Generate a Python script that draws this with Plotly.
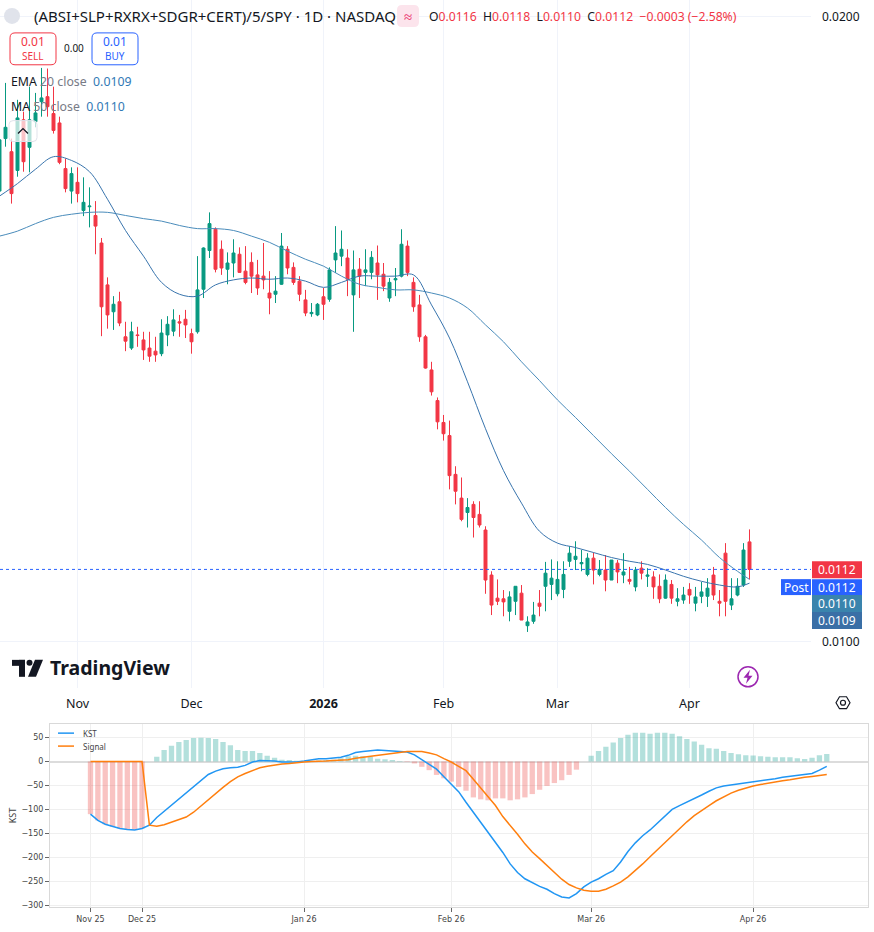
import plotly.graph_objects as go

W, H = 874, 932

# daily bars, one per trading day (Oct 15 2025 -> Apr 16 2026)
bar_open = [
    0.01721, 0.01805, 0.01784, 0.01754, 0.01835, 0.01791, 0.01832, 0.01864, 0.01872, 0.01845,
    0.01830, 0.01757, 0.01721, 0.01735, 0.01690, 0.01696, 0.01682, 0.01638, 0.01571, 0.01528,
    0.01544, 0.01488, 0.01470, 0.01491, 0.01483, 0.01470, 0.01465, 0.01461, 0.01491, 0.01497,
    0.01512, 0.01516, 0.01493, 0.01496, 0.01564, 0.01626, 0.01660, 0.01628, 0.01596, 0.01606,
    0.01620, 0.01593, 0.01607, 0.01587, 0.01585, 0.01558, 0.01556, 0.01572, 0.01628, 0.01599,
    0.01577, 0.01547, 0.01525, 0.01523, 0.01552, 0.01548, 0.01611, 0.01617, 0.01614, 0.01555,
    0.01596, 0.01591, 0.01591, 0.01606, 0.01588, 0.01550, 0.01579, 0.01585, 0.01633, 0.01575,
    0.01539, 0.01488, 0.01435, 0.01386, 0.01351, 0.01330, 0.01268, 0.01230, 0.01207, 0.01220,
    0.01204, 0.01179, 0.01107, 0.01070, 0.01069, 0.01049, 0.01065, 0.01078, 0.01026, 0.01033,
    0.01062, 0.01089, 0.01092, 0.01077, 0.01084, 0.01129, 0.01132, 0.01125, 0.01108, 0.01134,
    0.01108, 0.01115, 0.01099, 0.01126, 0.01107, 0.01100, 0.01088, 0.01118, 0.01105, 0.01104,
    0.01089, 0.01070, 0.01092, 0.01065, 0.01067, 0.01084, 0.01062, 0.01073, 0.01073, 0.01107,
    0.01065, 0.01142, 0.01059, 0.01075, 0.01091, 0.01160,
]
bar_high = [
    0.01811, 0.01894, 0.01805, 0.01867, 0.01848, 0.01888, 0.01878, 0.01918, 0.01917, 0.01888,
    0.01840, 0.01773, 0.01759, 0.01759, 0.01743, 0.01727, 0.01705, 0.01646, 0.01583, 0.01553,
    0.01560, 0.01512, 0.01512, 0.01504, 0.01496, 0.01496, 0.01488, 0.01516, 0.01521, 0.01532,
    0.01523, 0.01531, 0.01501, 0.01617, 0.01631, 0.01687, 0.01663, 0.01642, 0.01623, 0.01644,
    0.01631, 0.01633, 0.01623, 0.01611, 0.01638, 0.01593, 0.01585, 0.01654, 0.01633, 0.01607,
    0.01585, 0.01563, 0.01542, 0.01542, 0.01566, 0.01599, 0.01665, 0.01658, 0.01628, 0.01626,
    0.01614, 0.01628, 0.01625, 0.01634, 0.01606, 0.01582, 0.01598, 0.01660, 0.01642, 0.01583,
    0.01555, 0.01491, 0.01448, 0.01391, 0.01363, 0.01354, 0.01281, 0.01263, 0.01230, 0.01225,
    0.01225, 0.01185, 0.01113, 0.01100, 0.01083, 0.01081, 0.01089, 0.01091, 0.01041, 0.01064,
    0.01083, 0.01128, 0.01132, 0.01129, 0.01129, 0.01153, 0.01161, 0.01147, 0.01142, 0.01143,
    0.01131, 0.01139, 0.01131, 0.01131, 0.01142, 0.01120, 0.01120, 0.01129, 0.01118, 0.01113,
    0.01108, 0.01108, 0.01099, 0.01086, 0.01088, 0.01094, 0.01088, 0.01096, 0.01102, 0.01120,
    0.01083, 0.01158, 0.01102, 0.01102, 0.01158, 0.01180,
]
bar_low = [
    0.01716, 0.01792, 0.01701, 0.01744, 0.01752, 0.01751, 0.01823, 0.01840, 0.01840, 0.01813,
    0.01764, 0.01719, 0.01701, 0.01703, 0.01681, 0.01663, 0.01620, 0.01489, 0.01501, 0.01499,
    0.01505, 0.01465, 0.01467, 0.01472, 0.01451, 0.01448, 0.01448, 0.01457, 0.01473, 0.01489,
    0.01488, 0.01486, 0.01461, 0.01493, 0.01550, 0.01614, 0.01591, 0.01587, 0.01572, 0.01583,
    0.01590, 0.01572, 0.01558, 0.01555, 0.01564, 0.01524, 0.01542, 0.01571, 0.01588, 0.01571,
    0.01545, 0.01521, 0.01520, 0.01521, 0.01515, 0.01544, 0.01590, 0.01601, 0.01553, 0.01496,
    0.01550, 0.01569, 0.01580, 0.01547, 0.01561, 0.01544, 0.01553, 0.01583, 0.01585, 0.01528,
    0.01480, 0.01437, 0.01394, 0.01340, 0.01322, 0.01244, 0.01220, 0.01193, 0.01183, 0.01167,
    0.01183, 0.01077, 0.01043, 0.01059, 0.01041, 0.01033, 0.01043, 0.01035, 0.01016, 0.01029,
    0.01041, 0.01049, 0.01067, 0.01073, 0.01070, 0.01120, 0.01115, 0.01113, 0.01105, 0.01092,
    0.01105, 0.01081, 0.01099, 0.01094, 0.01094, 0.01092, 0.01081, 0.01100, 0.01088, 0.01069,
    0.01062, 0.01069, 0.01061, 0.01057, 0.01061, 0.01061, 0.01049, 0.01062, 0.01056, 0.01067,
    0.01041, 0.01041, 0.01051, 0.01073, 0.01088, 0.01100,
]
bar_close = [
    0.01803, 0.01823, 0.01717, 0.01838, 0.01768, 0.01835, 0.01846, 0.01870, 0.01856, 0.01818,
    0.01767, 0.01725, 0.01749, 0.01717, 0.01703, 0.01697, 0.01665, 0.01536, 0.01523, 0.01540,
    0.01510, 0.01481, 0.01496, 0.01490, 0.01467, 0.01457, 0.01459, 0.01494, 0.01508, 0.01515,
    0.01510, 0.01507, 0.01480, 0.01563, 0.01630, 0.01669, 0.01596, 0.01598, 0.01606, 0.01622,
    0.01591, 0.01575, 0.01585, 0.01566, 0.01579, 0.01550, 0.01561, 0.01633, 0.01598, 0.01575,
    0.01556, 0.01526, 0.01527, 0.01540, 0.01540, 0.01595, 0.01622, 0.01628, 0.01580, 0.01595,
    0.01585, 0.01595, 0.01615, 0.01587, 0.01569, 0.01575, 0.01581, 0.01636, 0.01591, 0.01536,
    0.01488, 0.01438, 0.01400, 0.01352, 0.01333, 0.01266, 0.01241, 0.01196, 0.01215, 0.01199,
    0.01187, 0.01099, 0.01059, 0.01065, 0.01064, 0.01072, 0.01089, 0.01035, 0.01032, 0.01043,
    0.01057, 0.01110, 0.01102, 0.01100, 0.01108, 0.01142, 0.01137, 0.01127, 0.01134, 0.01115,
    0.01116, 0.01099, 0.01131, 0.01112, 0.01112, 0.01097, 0.01115, 0.01110, 0.01107, 0.01088,
    0.01069, 0.01099, 0.01070, 0.01069, 0.01075, 0.01075, 0.01072, 0.01080, 0.01086, 0.01075,
    0.01062, 0.01065, 0.01069, 0.01089, 0.01147, 0.01116,
]

ma_bar = list(range(0, 126, 3)) + [125]
ema20 = [
    0.01713, 0.01733, 0.01756, 0.01776, 0.01770, 0.01752, 0.01708, 0.01658, 0.01617, 0.01575,
    0.01556, 0.01553, 0.01571, 0.01579, 0.01582, 0.01580, 0.01582, 0.01577, 0.01567, 0.01575,
    0.01585, 0.01585, 0.01585, 0.01587, 0.01539, 0.01486, 0.01416, 0.01341, 0.01274, 0.01222,
    0.01177, 0.01158, 0.01151, 0.01143, 0.01135, 0.01129, 0.01124, 0.01115, 0.01105, 0.01097,
    0.01091, 0.01088, 0.01094,
]
ma50 = [
    0.01649, 0.01657, 0.01669, 0.01679, 0.01684, 0.01687, 0.01687, 0.01682, 0.01677, 0.01673,
    0.01666, 0.01661, 0.01661, 0.01658, 0.01649, 0.01639, 0.01625, 0.01612, 0.01601, 0.01585,
    0.01572, 0.01567, 0.01563, 0.01563, 0.01558, 0.01550, 0.01534, 0.01507, 0.01480, 0.01448,
    0.01418, 0.01387, 0.01359, 0.01330, 0.01301, 0.01273, 0.01244, 0.01215, 0.01188, 0.01163,
    0.01135, 0.01113, 0.01100,
]

month_bar = [13, 32, 54, 74, 93, 115]
month_label = ["Nov", "Dec", "<b>2026</b>", "Feb", "Mar", "Apr"]

# KST indicator (Nov 19 2025 -> Apr 16 2026, trading days)
kst = [
    -110, -123, -131, -136, -140, -142, -143, -140, -133, -117,
    -104, -92, -79, -65, -51, -38, -27, -20, -15, -13,
    -12, -8, -1, 2, 2, 1, -1, -1, -1, 1,
    3, 6, 6, 7, 9, 13, 19, 21, 23, 24,
    23, 22, 21, 20, 14, 4, -5, -16, -32, -48,
    -63, -85, -106, -127, -148, -167, -190, -214, -232, -245,
    -253, -261, -267, -276, -283, -285, -276, -262, -252, -245,
    -236, -228, -210, -188, -170, -155, -143, -128, -115, -100,
    -92, -85, -78, -70, -62, -55, -51, -49, -47, -45,
    -42, -40, -38, -36, -33, -31, -29, -28, -25, -18,
    -10,
]
signal = [
    0, 0, 0, 0, 0, 0, 0, 0, -133, -135,
    -132, -127, -121, -116, -106, -93, -78, -66, -54, -42,
    -32, -25, -19, -13, -10, -7, -5, -4, -2, -1,
    0, 0, 1, 2, 3, 4, 7, 9, 11, 13,
    16, 18, 19, 21, 21, 21, 18, 14, 6, -1,
    -10, -19, -37, -55, -74, -92, -115, -133, -152, -172,
    -189, -203, -218, -233, -246, -257, -264, -269, -271, -271,
    -267, -260, -252, -241, -228, -214, -199, -184, -169, -155,
    -140, -126, -113, -102, -92, -82, -74, -66, -60, -55,
    -51, -48, -45, -42, -40, -38, -35, -33, -31, -29,
    -27,
]
kst_hist = [
    -110, -123, -131, -136, -140, -142, -143, -140, 0, 10,
    24, 33, 41, 45, 49, 50, 49, 47, 41, 34,
    24, 22, 22, 18, 12, 8, 4, 3, 1.5, 0,
    0.5, 2, 3, 4, 7, 11, 12, 11, 10, 6,
    5, 3, 1, -1, -4, -11, -18, -28, -35, -42,
    -53, -61, -75, -79, -81, -77, -77, -81, -79, -75,
    -68, -59, -51, -45, -39, -28, -17, 0, 12, 22,
    31, 40, 49, 56, 60, 60, 58, 60, 60, 58,
    53, 47, 42, 35, 28, 27, 22, 18, 15, 13,
    12.5, 11, 10, 9, 9, 9, 7, 5.5, 8, 13,
    16,
]
kst_tick_pos = [0, 7, 29, 49, 68, 90]
kst_tick_label = ["Nov 25", "Dec 25", "Jan 26", "Feb 26", "Mar 26", "Apr 26"]

UP, DOWN = "#089981", "#f23645"
INK, GREY = "#131722", "#787b86"
BLUE = "#2962ff"


def px(x):
    return x / W


def py(y):
    return 1 - y / H


def rounded_box(x0, y0, x1, y1, r):
    """SVG path of a rounded rectangle given in page pixels."""
    return (
        f"M {px(x0 + r)},{py(y0)} L {px(x1 - r)},{py(y0)} "
        f"Q {px(x1)},{py(y0)} {px(x1)},{py(y0 + r)} L {px(x1)},{py(y1 - r)} "
        f"Q {px(x1)},{py(y1)} {px(x1 - r)},{py(y1)} L {px(x0 + r)},{py(y1)} "
        f"Q {px(x0)},{py(y1)} {px(x0)},{py(y1 - r)} L {px(x0)},{py(y0 + r)} "
        f"Q {px(x0)},{py(y0)} {px(x0 + r)},{py(y0)} Z"
    )


def label(x, y, text, size=12, color=INK, anchor="left", **kw):
    return dict(
        x=px(x), y=py(y), xref="paper", yref="paper", text=text, showarrow=False,
        xanchor=anchor, yanchor="middle", font=dict(size=size, color=color), **kw
    )


fig = go.Figure()

# Price pane
fig.add_trace(
    go.Candlestick(
        x=list(range(len(bar_close))),
        open=bar_open,
        high=bar_high,
        low=bar_low,
        close=bar_close,
        increasing=dict(line=dict(color=UP, width=1), fillcolor=UP),
        decreasing=dict(line=dict(color=DOWN, width=1), fillcolor=DOWN),
        hoverinfo="skip",
        xaxis="x",
        yaxis="y",
    )
)
fig.add_trace(
    go.Scatter(x=ma_bar, y=ma50, mode="lines", hoverinfo="skip",
               line=dict(color="#4a8cbb", width=1, shape="spline"), xaxis="x", yaxis="y")
)
fig.add_trace(
    go.Scatter(x=ma_bar, y=ema20, mode="lines", hoverinfo="skip",
               line=dict(color="#3874ad", width=1, shape="spline"), xaxis="x", yaxis="y")
)

# KST pane
kst_x = list(range(len(kst)))
hist_colors = ["rgba(38,166,154,0.35)" if v >= 0 else "rgba(239,83,80,0.35)" for v in kst_hist]
fig.add_trace(
    go.Bar(x=kst_x, y=kst_hist, marker=dict(color=hist_colors, line=dict(width=0)),
           width=0.72, hoverinfo="skip", xaxis="x2", yaxis="y2")
)
fig.add_trace(
    go.Scatter(x=kst_x, y=kst, mode="lines", line=dict(color="#2196f3", width=1.5),
               hoverinfo="skip", xaxis="x2", yaxis="y2")
)
fig.add_trace(
    go.Scatter(x=kst_x, y=signal, mode="lines", line=dict(color="#ff7f0e", width=1.5),
               hoverinfo="skip", xaxis="x2", yaxis="y2")
)

shapes = [
    # last price line
    dict(type="line", xref="paper", yref="y", x0=0, x1=px(811),
         y0=bar_close[-1], y1=bar_close[-1], line=dict(color=BLUE, width=1, dash="dot")),
    # symbol logo placeholder
    dict(type="circle", xref="paper", yref="paper", x0=px(4), x1=px(20), y0=py(24), y1=py(8),
         fillcolor="#e0e3eb", line=dict(width=0)),
    # "≈" badge
    dict(type="path", xref="paper", yref="paper", path=rounded_box(397, 5, 419, 27, 5),
         fillcolor="#fce4ec", line=dict(width=0)),
    # sell / buy boxes
    dict(type="path", xref="paper", yref="paper", path=rounded_box(10, 33, 56, 65, 5),
         fillcolor="white", line=dict(color=DOWN, width=1)),
    dict(type="path", xref="paper", yref="paper", path=rounded_box(92, 33, 138, 65, 5),
         fillcolor="white", line=dict(color=BLUE, width=1)),
    # collapse button
    dict(type="path", xref="paper", yref="paper", path=rounded_box(9, 121, 37, 142, 4),
         fillcolor="rgba(255,255,255,0.7)", line=dict(color="#e0e3eb", width=1)),
    dict(type="path", xref="paper", yref="paper",
         path=f"M {px(18)},{py(134)} L {px(23)},{py(129)} L {px(28)},{py(134)}",
         line=dict(color=INK, width=1.3)),
    # price tags
    dict(type="rect", xref="paper", yref="paper", x0=px(812), x1=px(862), y0=py(580), y1=py(563),
         fillcolor=DOWN, line=dict(width=0)),
    dict(type="rect", xref="paper", yref="paper", x0=px(781), x1=px(811), y0=py(597), y1=py(581),
         fillcolor=BLUE, line=dict(width=0)),
    dict(type="rect", xref="paper", yref="paper", x0=px(812), x1=px(862), y0=py(597), y1=py(581),
         fillcolor=BLUE, line=dict(width=0)),
    dict(type="rect", xref="paper", yref="paper", x0=px(812), x1=px(862), y0=py(614), y1=py(597),
         fillcolor="#3a84ad", line=dict(width=0)),
    dict(type="rect", xref="paper", yref="paper", x0=px(812), x1=px(862), y0=py(631), y1=py(614),
         fillcolor="#3a6fa6", line=dict(width=0)),
    # TradingView mark
    dict(type="rect", xref="paper", yref="paper", x0=px(12), x1=px(25), y0=py(668), y1=py(662),
         fillcolor=INK, line=dict(width=0)),
    dict(type="rect", xref="paper", yref="paper", x0=px(19), x1=px(25), y0=py(679), y1=py(662),
         fillcolor=INK, line=dict(width=0)),
    dict(type="circle", xref="paper", yref="paper", x0=px(26.5), x1=px(32.5), y0=py(668), y1=py(662),
         fillcolor=INK, line=dict(width=0)),
    dict(type="path", xref="paper", yref="paper",
         path=f"M {px(35)},{py(662)} L {px(43)},{py(662)} L {px(36)},{py(679)} L {px(28)},{py(679)} Z",
         fillcolor=INK, line=dict(width=0)),
    # lightning badge
    dict(type="circle", xref="paper", yref="paper", x0=px(738), x1=px(758), y0=py(689), y1=py(669),
         line=dict(color="#9c27b0", width=1.5)),
    dict(type="path", xref="paper", yref="paper",
         path=(f"M {px(750)},{py(672)} L {px(743.5)},{py(680)} L {px(747.5)},{py(680)} "
               f"L {px(746)},{py(686)} L {px(752.5)},{py(678)} L {px(748.5)},{py(678)} Z"),
         fillcolor="#9c27b0", line=dict(width=0)),
    # settings hexagon
    dict(type="path", xref="paper", yref="paper",
         path=(f"M {px(836)},{py(705)} L {px(839.5)},{py(699)} L {px(846.5)},{py(699)} "
               f"L {px(850)},{py(705)} L {px(846.5)},{py(711)} L {px(839.5)},{py(711)} Z"),
         line=dict(color=INK, width=1.2)),
    dict(type="circle", xref="paper", yref="paper", x0=px(840.5), x1=px(845.5), y0=py(707.5), y1=py(702.5),
         line=dict(color=INK, width=1.2)),
    # KST legend keys
    dict(type="line", xref="paper", yref="paper", x0=px(58), x1=px(74), y0=py(735.5), y1=py(735.5),
         line=dict(color="#2196f3", width=1.5)),
    dict(type="line", xref="paper", yref="paper", x0=px(58), x1=px(74), y0=py(748.5), y1=py(748.5),
         line=dict(color="#ff7f0e", width=1.5)),
]

red = "<span style='color:#f23645'>%s</span>"
ohlc_text = (
    "O" + red % "0.0116" + "  H" + red % "0.0118" + "  L" + red % "0.0110"
    + "  C" + red % "0.0112" + "  " + red % "−0.0003 (−2.58%)"
)
val = "<span style='color:#3179b5'>%s</span>"
mute = "<span style='color:#787b86'>%s</span>"

annotations = [
    label(32, 16.5, "(ABSI+SLP+RXRX+SDGR+CERT)/5/SPY · 1D · NASDAQ", size=15),
    label(408, 16.5, "≈", size=15, color="#e91e63", anchor="center"),
    label(427, 17, ohlc_text, size=12.2),
    label(33, 42, "0.01", size=12, color=DOWN, anchor="center"),
    label(33, 56.5, "SELL", size=10, color=DOWN, anchor="center"),
    label(74, 48.5, "0.00", size=10, anchor="center"),
    label(115, 42, "0.01", size=12, color=BLUE, anchor="center"),
    label(115, 56.5, "BUY", size=10, color=BLUE, anchor="center"),
    label(9, 82, "EMA " + mute % "20 close" + "  " + val % "0.0109", size=12.3),
    label(9, 106.5, "MA " + mute % "50 close" + "  " + val % "0.0110", size=12.3),
    label(820, 17, "0.0200", size=12),
    label(820, 644, "0.0100", size=12),
    label(837, 571.5, "0.0112", size=12, color="white", anchor="center"),
    label(796, 589, "Post", size=12, color="white", anchor="center"),
    label(837, 589, "0.0112", size=12, color="white", anchor="center"),
    label(837, 605.5, "0.0110", size=12, color="white", anchor="center"),
    label(837, 622.5, "0.0109", size=12, color="white", anchor="center"),
    label(48, 670, "<b>TradingView</b>", size=19.5),
    label(81, 735.5, "KST", size=8, color="#444"),
    label(81, 748.5, "Signal", size=8, color="#444"),
    dict(x=px(12), y=py(818), xref="paper", yref="paper", text="KST", showarrow=False,
         textangle=-90, font=dict(size=9, color="#444"), xanchor="center", yanchor="middle"),
]

fig.update_layout(
    width=W,
    height=H,
    margin=dict(l=0, r=0, t=0, b=0),
    paper_bgcolor="white",
    plot_bgcolor="white",
    showlegend=False,
    font=dict(family="Noto Sans", color=INK),
    xaxis=dict(
        domain=[0, px(811)],
        range=[0.5 / 6, 811.5 / 6],
        anchor="y",
        rangeslider=dict(visible=False),
        tickvals=month_bar,
        ticktext=month_label,
        ticks="",
        showgrid=True,
        gridcolor="#f0f3fa",
        zeroline=False,
        showline=False,
        tickfont=dict(size=12.5, color=INK),
        ticklabelstandoff=7,
    ),
    yaxis=dict(
        domain=[py(690), 1],
        range=[0.009267, 0.020266],
        anchor="x",
        side="right",
        tickvals=[0.01, 0.02],
        showticklabels=False,
        showgrid=True,
        gridcolor="#f0f3fa",
        zeroline=False,
    ),
    xaxis2=dict(
        domain=[px(50), px(868)],
        range=[-5.5, 105.6],
        anchor="y2",
        tickvals=kst_tick_pos,
        ticktext=kst_tick_label,
        showgrid=True,
        gridcolor="#efefef",
        zeroline=False,
        showline=True,
        linecolor="#d9d9d9",
        mirror=True,
        ticks="outside",
        ticklen=4,
        tickcolor="#666",
        tickfont=dict(family="DejaVu Sans", size=8, color="#444"),
    ),
    yaxis2=dict(
        domain=[py(910), py(726)],
        range=[-304.2, 79.2],
        anchor="x2",
        tickvals=[50, 0, -50, -100, -150, -200, -250, -300],
        showgrid=True,
        gridcolor="#efefef",
        zeroline=True,
        zerolinecolor="#dcdcdc",
        zerolinewidth=1.5,
        showline=True,
        linecolor="#d9d9d9",
        mirror=True,
        ticks="outside",
        ticklen=4,
        tickcolor="#666",
        tickfont=dict(family="DejaVu Sans", size=8, color="#444"),
    ),
    shapes=shapes,
    annotations=annotations,
)

# the page is photographed edge to edge: drop the browser's default body margin
page_fix = "document.body.style.margin = '0'; document.body.style.overflow = 'hidden';"
fig.write_html("out.html", config={"displayModeBar": False}, post_script=page_fix)
